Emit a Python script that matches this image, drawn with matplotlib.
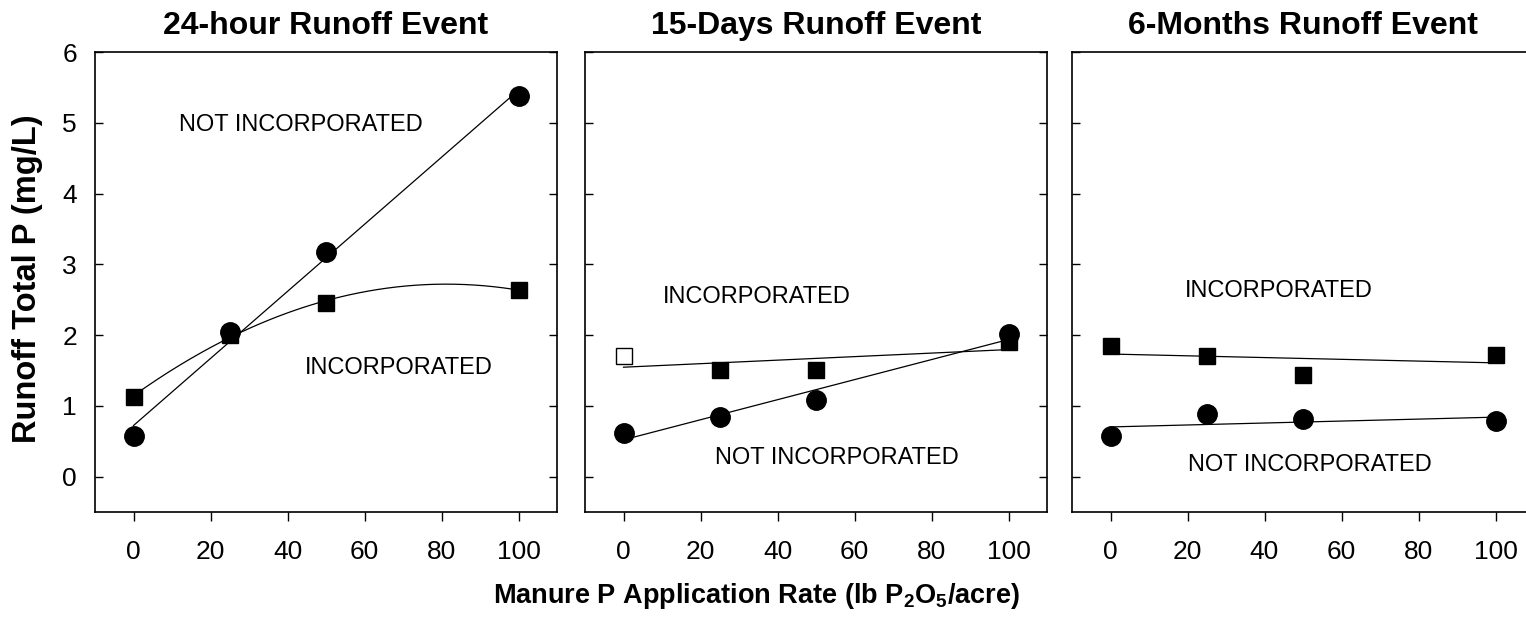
import numpy as np
import matplotlib
matplotlib.use('Agg')
import matplotlib.pyplot as plt

plt.rcParams['font.family'] = ['Liberation Sans', 'DejaVu Sans']
plt.rcParams['mathtext.fontset'] = 'custom'
plt.rcParams['mathtext.rm'] = 'Liberation Sans'
plt.rcParams['mathtext.bf'] = 'Liberation Sans:bold'

# Manure P application rate (lb P2O5/acre)
rate = [0, 25, 50, 100]

# Runoff total P (mg/L)
inc_24h = [1.13, 2.00, 2.46, 2.64]
notinc_24h = [0.57, 2.05, 3.18, 5.38]
inc_15d = [1.70, 1.51, 1.51, 1.90]
notinc_15d = [0.62, 0.84, 1.08, 2.02]
inc_6m = [1.84, 1.71, 1.44, 1.72]
notinc_6m = [0.57, 0.88, 0.82, 0.78]

titles = ['24-hour Runoff Event', '15-Days Runoff Event', '6-Months Runoff Event']
yticks = [0, 1, 2, 3, 4, 5, 6]
xticks = [0, 20, 40, 60, 80, 100]

panels = [
    # (incorporated, not incorporated, fit degree inc, first square open?)
    (inc_24h, notinc_24h, 2, False),
    (inc_15d, notinc_15d, 1, True),
    (inc_6m, notinc_6m, 1, False),
]

# label positions (data coords)
labels = [
    [('NOT INCORPORATED', 43.6, 4.97), ('INCORPORATED', 69, 1.53)],
    [('INCORPORATED', 34.6, 2.54), ('NOT INCORPORATED', 55.5, 0.26)],
    [('INCORPORATED', 43.8, 2.62), ('NOT INCORPORATED', 51.7, 0.17)],
]

W, H = 1526, 621
fig = plt.figure(figsize=(W / 100, H / 100), dpi=100)

lefts = [95, 585, 1072]
x = np.array(rate, dtype=float)
xs = np.linspace(0, 100, 200)

for i, (inc, notinc, deg, open_first) in enumerate(panels):
    ax = fig.add_axes([lefts[i] / W, (H - 512) / H, 462 / W, 460 / H])

    # regression lines
    p_inc = np.polyfit(x, inc, deg)
    ax.plot(xs, np.polyval(p_inc, xs), color='black', lw=0.9, zorder=2)
    p_not = np.polyfit(x, notinc, 1)
    ax.plot(xs, np.polyval(p_not, xs), color='black', lw=0.9, zorder=2)

    # points
    ax.plot(x, notinc, 'o', color='black', ms=14, zorder=3)
    if open_first:
        ax.plot(x[:1], inc[:1], 's', mfc='white', mec='black', mew=1.0, ms=11, zorder=3)
        ax.plot(x[1:], inc[1:], 's', color='black', ms=11.5, zorder=3)
    else:
        ax.plot(x, inc, 's', color='black', ms=11.5, zorder=3)

    for txt, tx, ty in labels[i]:
        ax.text(tx, ty, txt, fontsize=17, ha='center', va='center')

    ax.set_xlim(-10, 110)
    ax.set_ylim(-0.5, 6)
    ax.set_xticks(xticks)
    ax.set_yticks(yticks)
    ax.tick_params(axis='x', direction='out', length=6.5, width=1.0, pad=14, labelsize=19)
    ax.tick_params(axis='y', direction='in', length=6, width=1.0, pad=13, labelsize=19,
                   right=True)
    if i > 0:
        ax.tick_params(axis='y', labelleft=False)
    for s in ax.spines.values():
        s.set_linewidth(1.2)
    ax.set_title(titles[i], fontsize=23, fontweight='bold', pad=13)

fig.text(28 / W, (H - 279) / H, 'Runoff Total P (mg/L)', rotation=90,
         fontsize=23.5, fontweight='bold', ha='center', va='center')
fig.text(757 / W, (H - 596) / H,
         r'Manure P Application Rate (lb P$_\mathbf{2}$O$_\mathbf{5}$/acre)',
         fontsize=19.5, fontweight='bold', ha='center', va='center')

fig.savefig('out.png', dpi=100)
